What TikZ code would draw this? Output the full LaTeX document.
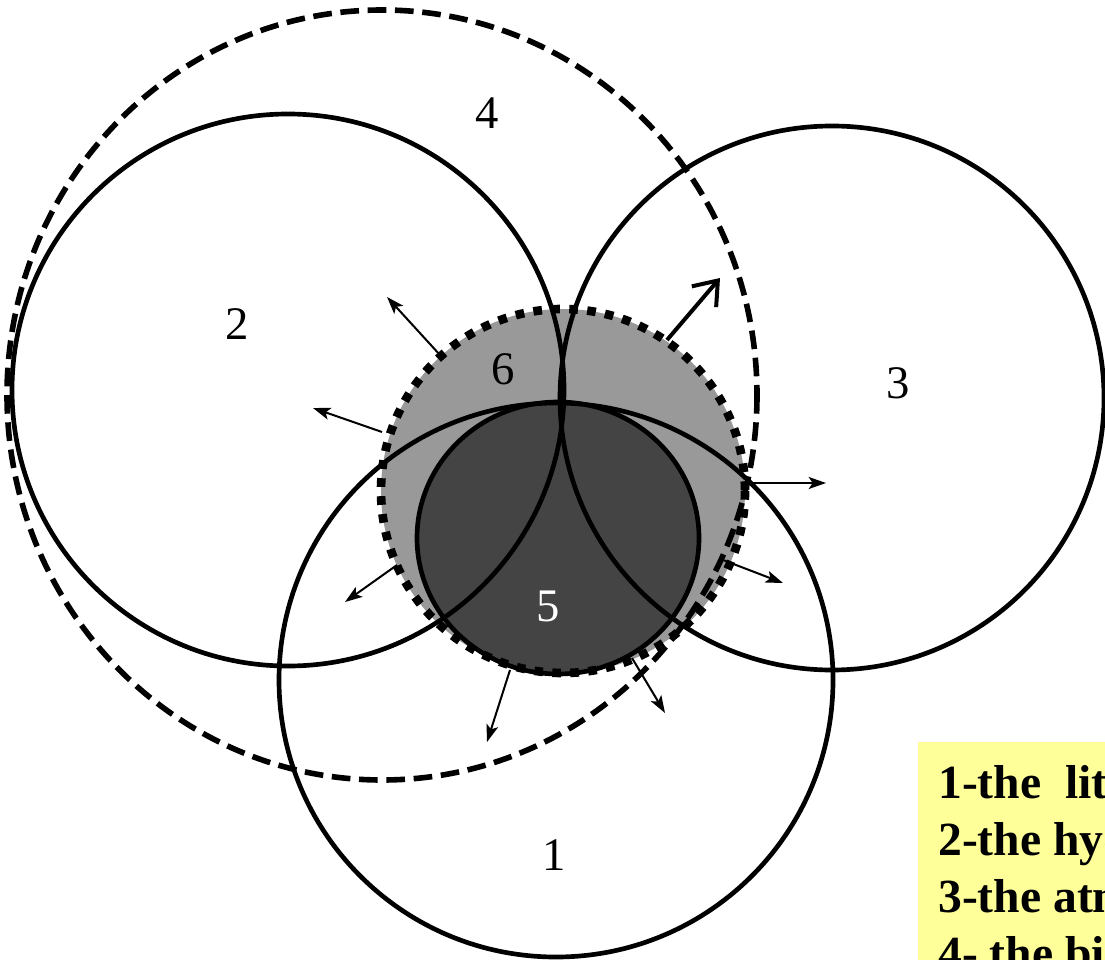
\documentclass[tikz,border=0pt]{standalone}
\usepackage{fontspec}
\setmainfont{Liberation Serif}
\usetikzlibrary{arrows.meta}
\definecolor{zonegrey}{HTML}{999999}
\definecolor{coregrey}{HTML}{444444}
\definecolor{legendyellow}{HTML}{FFFF99}
\tikzset{
  sphere/.style={draw=black, line width=3.5pt},
  biosphere/.style={draw=black, line width=4.2pt, dash pattern=on 14pt off 6.5pt},
  zone/.style={draw=black, line width=6.5pt, dash pattern=on 6.5pt off 7pt},
  flux/.style={draw=black, line width=1.5pt, -{Stealth[length=13pt,width=9pt,inset=3pt]}},
  bigflux/.style={draw=black, line width=3pt, -{Straight Barb[length=16pt,width=24pt]}},
  numlabel/.style={font=\fontsize{35}{35}\selectfont, inner sep=0pt},
  legendline/.style={font=\fontsize{35.7}{36}\selectfont\bfseries, anchor=base west, inner sep=0pt},
}
\begin{document}
\begin{tikzpicture}[x=0.75pt,y=-0.75pt]
\useasboundingbox (0,0) rectangle (1105,959);
\fill[white] (0,0) rectangle (1105,959);
\begin{scope}
\clip (0,0) rectangle (1105,959);
% fills
\fill[zonegrey] (563,491) circle[radius=182];
\fill[coregrey] (558,538) ellipse[x radius=141, y radius=136];
% spheres
\draw[sphere] (288,390) circle[radius=276];
\draw[sphere] (832,398) circle[radius=272];
\draw[sphere] (556,680) circle[radius=277];
\draw[sphere] (558,538) ellipse[x radius=141, y radius=136];
\draw[biosphere] (382,395) ellipse[x radius=375, y radius=385];
\draw[zone] (563,491) circle[radius=182];
% flux arrows
\coordinate (a1s) at (440,355); \coordinate (a1e) at (387,297);
\coordinate (a2s) at (382,432); \coordinate (a2e) at (313,408);
\coordinate (a3s) at (667,340); \coordinate (a3e) at (720,278);
\coordinate (a4s) at (750,483); \coordinate (a4e) at (826,483);
\coordinate (a5s) at (723,560); \coordinate (a5e) at (783,583);
\coordinate (a6s) at (397,565); \coordinate (a6e) at (345,602);
\coordinate (a7s) at (510,670); \coordinate (a7e) at (487,742);
\coordinate (a8s) at (632,658); \coordinate (a8e) at (665,713);
\draw[flux] (a1s) -- (a1e);
\draw[flux] (a2s) -- (a2e);
\draw[bigflux] (a3s) -- (a3e);
\draw[flux] (a4s) -- (a4e);
\draw[flux] (a5s) -- (a5e);
\draw[flux] (a6s) -- (a6e);
\draw[flux] (a7s) -- (a7e);
\draw[flux] (a8s) -- (a8e);
% labels
\node[numlabel] (n4) at (487,113) {4};
\node[numlabel] (n2) at (237,324) {2};
\node[numlabel] (n6) at (503,369) {6};
\node[numlabel] (n3) at (898,383) {3};
\node[numlabel, text=white] (n5) at (548,606) {5};
\node[numlabel] (n1) at (554,855) {1};
% legend (cut off at the right edge, as in the reference)
\fill[legendyellow] (918,742) rectangle (1130,990);
\node[legendline] (l1) at (938,798) {1-the\ \ lithosphere};
\node[legendline] (l2) at (938,855) {2-the hydrosphere};
\node[legendline] (l3) at (938,912) {3-the atmosphere};
\node[legendline] (l4) at (938,969) {4- the biosphere};
\end{scope}
\end{tikzpicture}
\end{document}
